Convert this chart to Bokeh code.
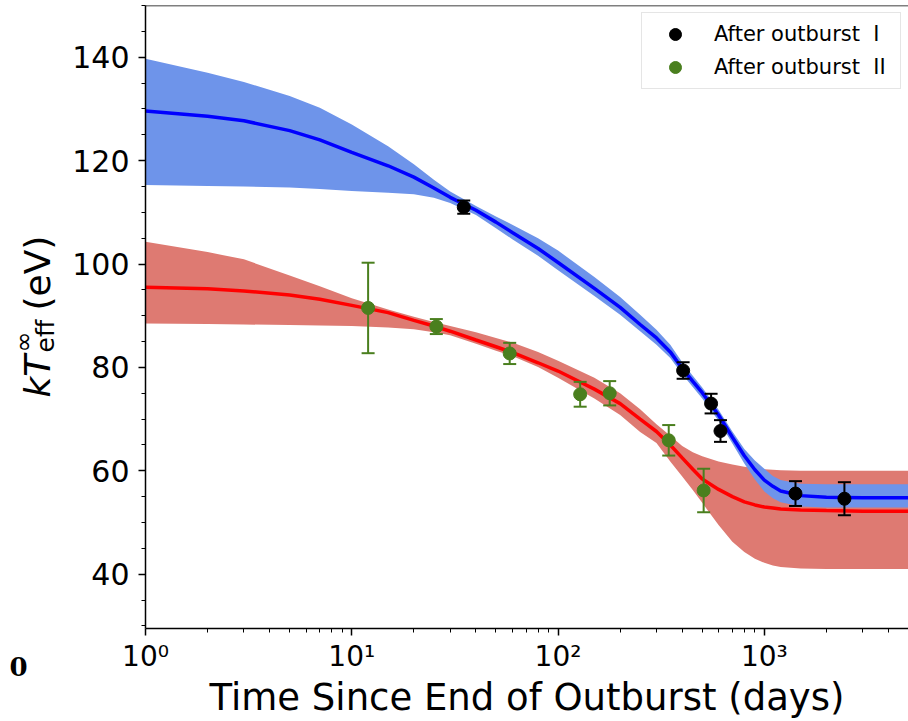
import math
from bokeh.plotting import figure
from bokeh.layouts import row
from bokeh.models import FixedTicker, Span, Legend, LegendItem, ColumnDataSource
from bokeh.core.properties import value
from bokeh.embed import file_html
from bokeh.resources import INLINE

# ---------------- data ----------------
blue_t = [1, 2, 3, 5, 7, 10, 15, 20, 25, 30, 40, 50, 60, 80, 100, 150, 200, 250, 300,
          350, 400, 450, 500, 600, 700, 800, 900, 1000, 1100, 1200, 1500, 2000, 3000, 5000]
blue_mid = [129.6, 128.6, 127.7, 125.8, 124.0, 121.6, 119.0, 116.8, 114.7, 112.9, 110.4,
            108.1, 106.1, 103.0, 100.3, 95.3, 91.6, 88.3, 85.7, 83.0, 79.8, 77.3, 75.1,
            70.8, 66.5, 62.9, 60.2, 58.2, 57.0, 56.1, 55.2, 54.9, 54.8, 54.8]
blue_hi = [139.7, 137.0, 135.2, 132.5, 130.2, 127.0, 122.8, 119.3, 116.3, 114.0, 111.2,
           109.2, 107.6, 105.0, 102.6, 97.5, 93.6, 90.2, 87.3, 84.4, 81.0, 78.4, 76.1,
           71.8, 67.6, 64.2, 62.0, 60.4, 59.0, 58.2, 57.5, 57.4, 57.4, 57.4]
blue_lo = [115.3, 115.1, 115.0, 114.8, 114.5, 114.1, 113.8, 113.5, 112.8, 111.8, 109.5,
           106.9, 104.8, 101.6, 98.8, 93.8, 90.2, 87.0, 84.4, 81.8, 78.7, 76.2, 74.0,
           69.7, 65.3, 61.4, 58.3, 56.0, 54.7, 53.9, 53.1, 52.9, 52.9, 52.9]

red_t = [1, 2, 3, 5, 7, 10, 15, 20, 25, 30, 40, 50, 60, 80, 100, 150, 200, 250, 300,
         350, 400, 450, 500, 600, 700, 800, 900, 1000, 1100, 1200, 1500, 2000, 3000, 5000]
red_mid = [95.5, 95.2, 94.8, 94.0, 93.2, 92.0, 90.6, 89.1, 88.0, 87.0, 85.3, 84.0, 82.9,
           80.9, 79.3, 75.8, 73.0, 70.0, 67.6, 65.0, 62.5, 60.3, 58.4, 56.4, 55.0, 54.0,
           53.4, 53.0, 52.8, 52.6, 52.4, 52.3, 52.2, 52.2]
red_hi = [104.3, 102.3, 100.9, 97.8, 95.7, 93.4, 91.2, 89.8, 88.8, 88.0, 86.8, 85.7, 84.8,
          83.0, 81.3, 78.0, 75.0, 71.9, 69.0, 66.8, 64.8, 63.6, 62.8, 61.8, 61.2, 60.8,
          60.5, 60.3, 60.2, 60.1, 60.0, 60.0, 60.0, 60.0]
red_lo = [88.5, 88.4, 88.3, 88.2, 88.1, 88.0, 87.7, 87.4, 86.8, 86.2, 84.6, 83.2, 82.2,
          80.1, 78.0, 74.0, 70.8, 67.5, 65.4, 61.8, 58.9, 56.3, 53.8, 49.5, 46.3, 44.3,
          43.0, 42.2, 41.7, 41.4, 41.1, 41.0, 41.0, 41.0]

# After outburst I (black)
t1 = [34.9, 404, 552, 613, 1416, 2445]
T1 = [111.0, 79.4, 73.0, 67.7, 55.6, 54.6]
e1 = [1.3, 1.6, 1.9, 2.1, 2.4, 3.2]
# After outburst II (green)
t2 = [12.0, 25.7, 58.3, 128, 178, 344, 508]
T2 = [91.5, 87.9, 82.7, 74.8, 75.0, 65.9, 56.2]
e2 = [8.75, 1.45, 2.05, 2.4, 2.35, 2.95, 4.2]

series_labels = ["After outburst  I", "After outburst  II"]

x_ticks = [1, 10, 100, 1000]
x_tick_labels = ["10\u2070", "10\u00b9", "10\u00b2", "10\u00b3"]
x_minor = [2, 3, 4, 5, 6, 7, 8, 9, 20, 30, 40, 50, 60, 70, 80, 90,
           200, 300, 400, 500, 600, 700, 800, 900, 2000, 3000, 4000, 5000]
y_ticks = [40, 60, 80, 100, 120, 140]
y_minor = [30, 35, 45, 50, 55, 65, 70, 75, 85, 90, 95, 105, 110, 115, 125, 130, 135, 145, 150]

x_label = "Time Since End of Outburst (days)"
y_label_parts = ["kT", "\u221e", "eff", "(eV)"]
stray_text = "0"

# ---------------- layout ----------------
FONT = "DejaVu Sans"
TOTAL_W, H = 908, 721
LW = 65                      # width of the strip that carries the y label
W = TOTAL_W - LW
FT, FB = 5, 93
FL, FR = 145 - LW, 0

# left strip: rotated y-axis label, drawn in pixel coordinates of the page
pl = figure(width=LW, height=H, x_range=(0, LW), y_range=(H - FB, FT),
            output_backend="svg", toolbar_location=None, y_axis_location=None,
            min_border_left=0, min_border_right=0, min_border_top=FT, min_border_bottom=FB)
pl.outline_line_color = None
pl.grid.visible = False
pl.background_fill_color = "white"
pl.border_fill_color = "white"

ang = math.pi / 2
bx, by = 37, 397
pl.text(x=[bx], y=[by], text=[y_label_parts[0]], angle=ang, text_font=value(FONT),
        text_font_style="italic", text_font_size=value("36px"), text_color="black",
        text_align="left", text_baseline="alphabetic")
pl.text(x=[bx - 14], y=[by - 45], text=[y_label_parts[1]], angle=ang, text_font=value(FONT),
        text_font_size=value("25px"), text_color="black",
        text_align="left", text_baseline="alphabetic")
pl.text(x=[bx + 8], y=[by - 45], text=[y_label_parts[2]], angle=ang, text_font=value(FONT),
        text_font_size=value("25px"), text_color="black",
        text_align="left", text_baseline="alphabetic")
pl.text(x=[bx], y=[by - 87], text=[y_label_parts[3]], angle=ang, text_font=value(FONT),
        text_font_size=value("36px"), text_color="black",
        text_align="left", text_baseline="alphabetic")

# stray glyph at the lower-left edge, shown as a tick label of the strip's bottom axis
sa = pl.xaxis[0]
sa.ticker = FixedTicker(ticks=[0], minor_ticks=[])
sa.major_label_overrides = {0: stray_text}
sa.major_label_text_font = "DejaVu Serif"
sa.major_label_text_font_style = "bold"
sa.major_label_text_font_size = "26px"
sa.major_label_text_color = "black"
sa.major_label_standoff = 22
sa.axis_line_color = None
sa.major_tick_line_color = None
sa.minor_tick_line_color = None

# main plot
p = figure(width=W, height=H, x_axis_type="log", x_range=(1, 5000), y_range=(29.5, 150),
           output_backend="svg", toolbar_location=None,
           min_border_left=FL, min_border_right=FR, min_border_top=FT, min_border_bottom=FB)
p.outline_line_color = None
p.grid.visible = False
p.background_fill_color = "white"
p.border_fill_color = "white"

p.varea(x=red_t, y1=red_lo, y2=red_hi, fill_color="#de7a72")
p.varea(x=blue_t, y1=blue_lo, y2=blue_hi, fill_color="#6e94ea")
p.line(red_t, red_mid, line_color="#ff0000", line_width=3.5)
p.line(blue_t, blue_mid, line_color="#0000ff", line_width=3.5)

renderers = []
for tt, TT, ee, col in [(t1, T1, e1, "#000000"), (t2, T2, e2, "#4a7f1e")]:
    src = ColumnDataSource(dict(t=tt, T=TT,
                                lo=[a - b for a, b in zip(TT, ee)],
                                hi=[a + b for a, b in zip(TT, ee)]))
    p.segment(x0="t", y0="lo", x1="t", y1="hi", source=src, line_color=col, line_width=2)
    p.scatter(x="t", y="lo", marker="dash", size=13, line_color=col, line_width=2, source=src)
    p.scatter(x="t", y="hi", marker="dash", size=13, line_color=col, line_width=2, source=src)
    r = p.scatter(x="t", y="T", size=13, fill_color=col, line_color=col, source=src)
    renderers.append(r)

# top spine
p.add_layout(Span(location=150, dimension="width", line_color="black", line_width=1.5))

xa = p.xaxis[0]
xa.ticker = FixedTicker(ticks=x_ticks, minor_ticks=x_minor)
xa.major_label_overrides = {v: s for v, s in zip(x_ticks, x_tick_labels)}
xa.axis_label = x_label
xa.axis_label_text_font = FONT
xa.axis_label_text_font_size = "37px"
xa.axis_label_text_font_style = "normal"
xa.axis_label_text_color = "black"
xa.axis_label_standoff = 0
xa.major_label_standoff = 4

ya = p.yaxis[0]
ya.ticker = FixedTicker(ticks=y_ticks, minor_ticks=y_minor)
ya.major_label_standoff = 9

for ax in (xa, ya):
    ax.major_label_text_font = FONT
    ax.major_label_text_color = "black"
    ax.axis_line_color = "black"
    ax.axis_line_width = 1.5
    ax.major_tick_line_color = "black"
    ax.major_tick_line_width = 1.5
    ax.minor_tick_line_color = "black"
    ax.minor_tick_line_width = 1
    ax.major_tick_out = 7
    ax.major_tick_in = 0
    ax.minor_tick_out = 4
    ax.minor_tick_in = 0
xa.major_label_text_font_size = "28px"
ya.major_label_text_font_size = "30px"

legend = Legend(items=[LegendItem(label=series_labels[0], renderers=[renderers[0]]),
                       LegendItem(label=series_labels[1], renderers=[renderers[1]])],
                location="top_right", margin=7, padding=6, spacing=3,
                glyph_width=54, glyph_height=30, label_standoff=12, label_width=180,
                label_text_font=FONT, label_text_font_size="21px", label_text_color="black",
                border_line_color="#cccccc", border_line_width=1.5,
                background_fill_color="white", background_fill_alpha=0.85)
p.add_layout(legend)

layout = row(pl, p)
open("out.html", "w").write(file_html(layout, INLINE))
